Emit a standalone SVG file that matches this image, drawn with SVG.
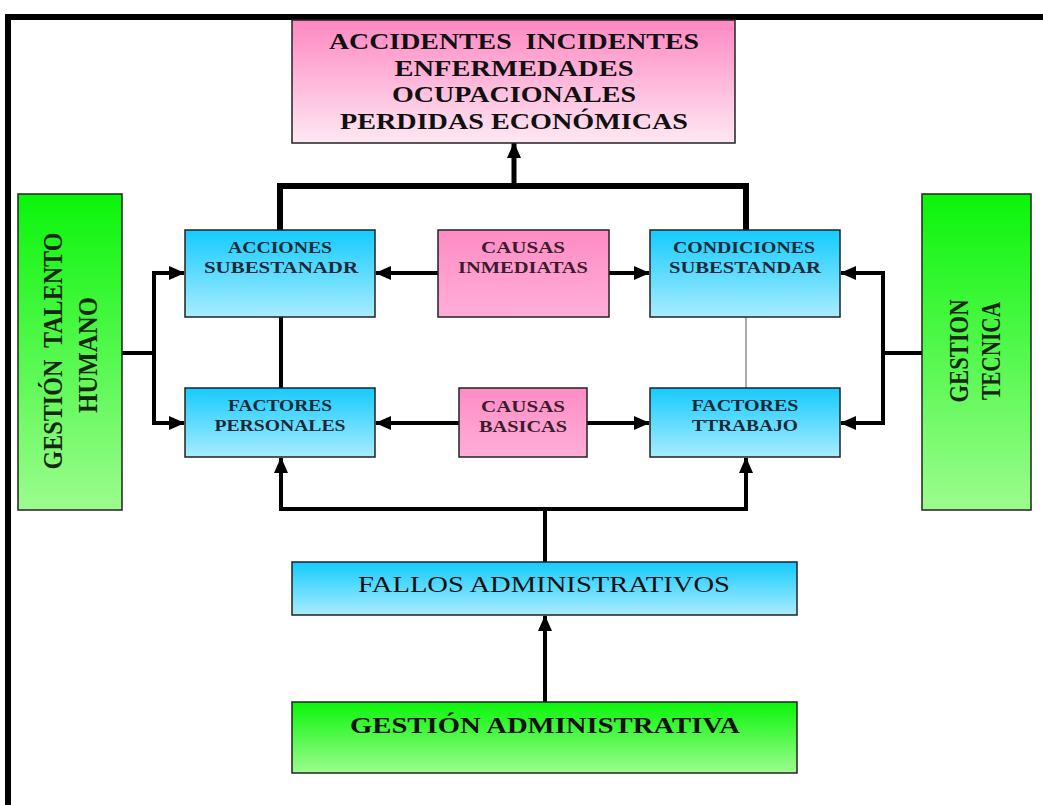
<svg xmlns="http://www.w3.org/2000/svg" width="1043" height="805" viewBox="0 0 1043 805">
<style>
.box{stroke:#222;stroke-width:1.5}
.t{font-family:"Liberation Serif","Times New Roman",serif;font-weight:bold;text-anchor:middle}
.s{font-size:16px;fill:#1c2a38}
.p{font-size:16px;fill:#3a1c2c}
.g{font-size:28px;fill:#15280f}
.h{font-size:24px;fill:#111}
.c{fill:none;stroke:#000;stroke-width:4}
</style>
<defs>
<linearGradient id="gGreen" x1="0" y1="0" x2="0" y2="1"><stop offset="0" stop-color="#0af50a"/><stop offset="1" stop-color="#9cfc8e"/></linearGradient>
<linearGradient id="gBlue" x1="0" y1="0" x2="0" y2="1"><stop offset="0" stop-color="#14cbff"/><stop offset="1" stop-color="#a9ecff"/></linearGradient>
<linearGradient id="gPink" x1="0" y1="0" x2="0" y2="1"><stop offset="0" stop-color="#ff8cc5"/><stop offset="1" stop-color="#ffaed8"/></linearGradient>
<linearGradient id="gPinkTop" x1="0" y1="0" x2="0" y2="1"><stop offset="0" stop-color="#ff88c2"/><stop offset="1" stop-color="#ffe8f3"/></linearGradient>
<marker id="ah" markerUnits="userSpaceOnUse" markerWidth="16" markerHeight="14" refX="15" refY="7" orient="auto"><path d="M0,0 L16,7 L0,14 z" fill="#000"/></marker>
</defs>

<path d="M8,805 V17 H1043" fill="none" stroke="#000" stroke-width="6"/>

<g id="connectors">
  <path d="M280,230 V186 H746 V230" fill="none" stroke="#000" stroke-width="6"/>
  <line x1="514" y1="186" x2="514" y2="143" stroke="#000" stroke-width="5" marker-end="url(#ah)"/>
  <line x1="281" y1="317" x2="281" y2="388" stroke="#000" stroke-width="4"/>
  <line x1="746" y1="317" x2="746" y2="388" stroke="#aaa" stroke-width="2"/>
  <line x1="438" y1="273" x2="376" y2="273" class="c" marker-end="url(#ah)"/>
  <line x1="609" y1="273" x2="649" y2="273" class="c" marker-end="url(#ah)"/>
  <line x1="459" y1="423" x2="376" y2="423" class="c" marker-end="url(#ah)"/>
  <line x1="587" y1="423" x2="649" y2="423" class="c" marker-end="url(#ah)"/>
  <path d="M122,353 H154" class="c"/>
  <path d="M154,273 V423" class="c"/>
  <line x1="152" y1="273" x2="184" y2="273" class="c" marker-end="url(#ah)"/>
  <line x1="152" y1="423" x2="184" y2="423" class="c" marker-end="url(#ah)"/>
  <path d="M922,353 H883" class="c"/>
  <path d="M883,273 V423" class="c"/>
  <line x1="885" y1="273" x2="841" y2="273" class="c" marker-end="url(#ah)"/>
  <line x1="885" y1="423" x2="841" y2="423" class="c" marker-end="url(#ah)"/>
  <path d="M545,562 V509" class="c"/>
  <path d="M281,509 H746" class="c"/>
  <line x1="281" y1="511" x2="281" y2="458" class="c" marker-end="url(#ah)"/>
  <line x1="746" y1="511" x2="746" y2="458" class="c" marker-end="url(#ah)"/>
  <line x1="545" y1="702" x2="545" y2="616" class="c" marker-end="url(#ah)"/>
</g>

<g id="resultados">
  <rect class="box" x="292" y="20" width="443" height="123" fill="url(#gPinkTop)"/>
  <text class="t h" x="514" y="49" textLength="370" lengthAdjust="spacingAndGlyphs">ACCIDENTES&#160; INCIDENTES</text>
  <text class="t h" x="514" y="76" textLength="239" lengthAdjust="spacingAndGlyphs">ENFERMEDADES</text>
  <text class="t h" x="514" y="102" textLength="244" lengthAdjust="spacingAndGlyphs">OCUPACIONALES</text>
  <text class="t h" x="514" y="129" textLength="348" lengthAdjust="spacingAndGlyphs">PERDIDAS ECONÓMICAS</text>
</g>

<g id="talento-humano">
  <rect class="box" x="18" y="194" width="104" height="316" fill="url(#gGreen)"/>
  <text class="t g" transform="translate(62,351) rotate(-90)" textLength="237" lengthAdjust="spacingAndGlyphs">GESTIÓN&#160; TALENTO</text>
  <text class="t g" transform="translate(97,355) rotate(-90)" textLength="116" lengthAdjust="spacingAndGlyphs">HUMANO</text>
</g>

<g id="gestion-tecnica">
  <rect class="box" x="922" y="194" width="109" height="316" fill="url(#gGreen)"/>
  <text class="t g" transform="translate(968,351) rotate(-90)" textLength="103" lengthAdjust="spacingAndGlyphs">GESTION</text>
  <text class="t g" transform="translate(1000,351) rotate(-90)" textLength="98" lengthAdjust="spacingAndGlyphs">TECNICA</text>
</g>

<g id="acciones">
  <rect class="box" x="185" y="230" width="190" height="87" fill="url(#gBlue)"/>
  <text class="t s" x="280" y="253" textLength="104" lengthAdjust="spacingAndGlyphs">ACCIONES</text>
  <text class="t s" x="281" y="273" textLength="154" lengthAdjust="spacingAndGlyphs">SUBESTANADR</text>
</g>

<g id="causas-inmediatas">
  <rect class="box" x="438" y="230" width="171" height="87" fill="url(#gPink)"/>
  <text class="t p" x="523" y="253" textLength="84" lengthAdjust="spacingAndGlyphs">CAUSAS</text>
  <text class="t p" x="523" y="273" textLength="130" lengthAdjust="spacingAndGlyphs">INMEDIATAS</text>
</g>

<g id="condiciones">
  <rect class="box" x="650" y="230" width="190" height="87" fill="url(#gBlue)"/>
  <text class="t s" x="744" y="253" textLength="142" lengthAdjust="spacingAndGlyphs">CONDICIONES</text>
  <text class="t s" x="745" y="273" textLength="152" lengthAdjust="spacingAndGlyphs">SUBESTANDAR</text>
</g>

<g id="factores-personales">
  <rect class="box" x="185" y="388" width="190" height="69" fill="url(#gBlue)"/>
  <text class="t s" x="280" y="411" textLength="104" lengthAdjust="spacingAndGlyphs">FACTORES</text>
  <text class="t s" x="280" y="431" textLength="131" lengthAdjust="spacingAndGlyphs">PERSONALES</text>
</g>

<g id="causas-basicas">
  <rect class="box" x="459" y="388" width="128" height="69" fill="url(#gPink)"/>
  <text class="t p" x="523" y="412" textLength="84" lengthAdjust="spacingAndGlyphs">CAUSAS</text>
  <text class="t p" x="523" y="432" textLength="88" lengthAdjust="spacingAndGlyphs">BASICAS</text>
</g>

<g id="factores-trabajo">
  <rect class="box" x="650" y="388" width="190" height="69" fill="url(#gBlue)"/>
  <text class="t s" x="745" y="411" textLength="107" lengthAdjust="spacingAndGlyphs">FACTORES</text>
  <text class="t s" x="745" y="431" textLength="106" lengthAdjust="spacingAndGlyphs">TTRABAJO</text>
</g>

<g id="fallos">
  <rect class="box" x="292" y="562" width="505" height="53" fill="url(#gBlue)"/>
  <text class="t" font-size="23" fill="#111" x="544" y="592" textLength="372" lengthAdjust="spacingAndGlyphs" style="font-weight:normal">FALLOS ADMINISTRATIVOS</text>
</g>

<g id="gestion-administrativa">
  <rect class="box" x="292" y="702" width="505" height="71" fill="url(#gGreen)"/>
  <text class="t" font-size="23" fill="#111" x="545" y="733" textLength="390" lengthAdjust="spacingAndGlyphs">GESTIÓN ADMINISTRATIVA</text>
</g>
</svg>
